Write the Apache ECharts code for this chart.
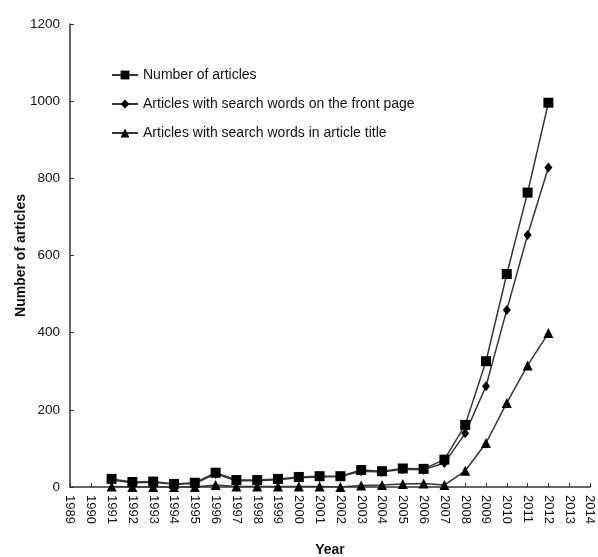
<!DOCTYPE html>
<html><head><meta charset="utf-8">
<script src="https://cdn.jsdelivr.net/npm/echarts@6/dist/echarts.min.js"></script>
<style>html,body{margin:0;padding:0;background:#fff}#c{width:598px;height:557px}</style>
</head><body><div id="c"></div>
<script>
const years = [1991,1992,1993,1994,1995,1996,1997,1998,1999,2000,2001,2002,2003,2004,2005,2006,2007,2008,2009,2010,2011,2012];
const numberOfArticles = [21,13,14,8,11,37,18,18,21,26,28,28,44,41,48,47,71,161,326,552,763,996];
const frontPage = [18,11,12,7,9,34,16,16,19,24,26,27,41,39,46,45,62,139,261,459,653,828];
const titleWords = [1,0,0,0,0,5,1,1,1,1,1,0,4,5,8,9,5,42,114,218,315,399];
const seriesNames = ['Number of articles','Articles with search words on the front page','Articles with search words in article title'];
const xMin = 1989, xMax = 2014;
const yTicks = [0,200,400,600,800,1000,1200];

const font = 'Liberation Sans, Arial, sans-serif';
const lineColor = '#3a3434';
const mk = (vals) => years.map((y,i)=>[y, vals[i]]);
const chart = echarts.init(document.getElementById('c'), null, {renderer:'canvas'});
chart.setOption({
  animation:false,
  backgroundColor:'#fff',
  grid:{left:70, right:8, top:24, bottom:70, containLabel:false, outerBoundsMode:'none'},
  legend:{
    orient:'vertical', left:111, top:68, padding:0, itemGap:15, itemWidth:26, itemHeight:11,
    textStyle:{fontFamily:font, fontSize:14, color:'#111'},
    data:seriesNames
  },
  xAxis:{
    type:'value', min:xMin, max:xMax, interval:1,
    name:'Year', nameLocation:'middle', nameGap:56, nameMoveOverlap:false,
    nameTextStyle:{fontFamily:font, fontSize:14, fontWeight:'bold', color:'#111'},
    axisLine:{lineStyle:{color:'#333', width:1.5}},
    axisTick:{inside:true, length:4, lineStyle:{color:'#333'}},
    splitLine:{show:false},
    axisLabel:{rotate:-90, fontFamily:font, fontSize:13, color:'#111', margin:8,
      formatter:v=>String(v)}
  },
  yAxis:{
    type:'value', min:yTicks[0], max:yTicks[yTicks.length-1], interval:yTicks[1]-yTicks[0],
    name:'Number of articles', nameLocation:'middle', nameGap:42, nameMoveOverlap:false,
    nameTextStyle:{fontFamily:font, fontSize:14, fontWeight:'bold', color:'#111'},
    axisLine:{show:true, lineStyle:{color:'#333', width:1.5}},
    axisTick:{show:true, inside:true, length:4, lineStyle:{color:'#333'}},
    splitLine:{show:false},
    axisLabel:{fontFamily:font, fontSize:13.5, color:'#111', margin:10, formatter:v=>String(v)}
  },
  series:[
    {name:seriesNames[0], type:'line', data:mk(numberOfArticles), symbol:'rect', symbolSize:10,
     itemStyle:{color:'#000'}, lineStyle:{color:lineColor, width:1.5}, z:3},
    {name:seriesNames[1], type:'line', data:mk(frontPage), symbol:'diamond', symbolSize:[8,10],
     itemStyle:{color:'#000'}, lineStyle:{color:lineColor, width:1.5}, z:2},
    {name:seriesNames[2], type:'line', data:mk(titleWords), symbol:'triangle', symbolSize:10,
     itemStyle:{color:'#000'}, lineStyle:{color:lineColor, width:1.5}, z:1}
  ]
});
</script></body></html>
